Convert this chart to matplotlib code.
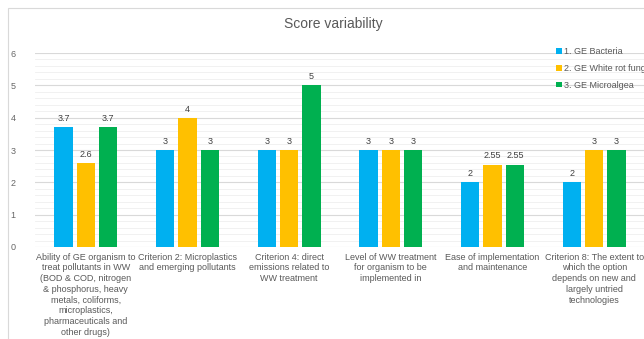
import matplotlib
matplotlib.use("Agg")
import matplotlib.pyplot as plt
import numpy as np
from matplotlib.patches import Rectangle

plt.rcParams['font.family'] = ['Liberation Sans', 'DejaVu Sans']

categories = [
    "Ability of GE organism to\ntreat pollutants in WW\n(BOD & COD, nitrogen\n& phosphorus, heavy\nmetals, coliforms,\nmicroplastics,\npharmaceuticals and\nother drugs)",
    "Criterion 2: Microplastics\nand emerging pollutants",
    "Criterion 4: direct\nemissions related to\nWW treatment",
    "Level of WW treatment\nfor organism to be\nimplemented in",
    "Ease of implementation\nand maintenance",
    "Criterion 8: The extent to\nwhich the option\ndepends on new and\nlargely untried\ntechnologies",
]
series_names = ["1. GE Bacteria", "2. GE White rot fungi", "3. GE Microalgea"]
bacteria = [3.7, 3, 3, 3, 2, 2]
white_rot = [2.6, 4, 3, 3, 2.55, 3]
microalgae = [3.7, 3, 5, 3, 2.55, 3]
colors = ["#00B0F0", "#FFC000", "#00B050"]

fig = plt.figure(figsize=(6.44, 3.39), dpi=100)
fig.patches.append(Rectangle((8 / 644, -0.1), 1.2, 1.1 - 8 / 339,
                             transform=fig.transFigure, fill=False,
                             edgecolor="#d9d9d9", linewidth=0.8))
ax = fig.add_axes([35 / 644, 92 / 339, 610 / 644, 194 / 339])

x = np.arange(len(categories))
width = 0.18
offsets = [-0.22, 0, 0.22]
for vals, off, c, name in zip([bacteria, white_rot, microalgae], offsets, colors, series_names):
    bars = ax.bar(x + off, vals, width, color=c, label=name, zorder=3)
    labels = [("%g" % v) for v in vals]
    ax.bar_label(bars, labels=labels, padding=3, fontsize=6.5, color="#404040")

ax.set_xlim(-0.5, len(categories) - 0.5)
ax.set_ylim(0, 6)
ax.set_yticks(range(0, 7))
ax.set_yticks(np.arange(0, 6.01, 0.2), minor=True)
ax.grid(axis="y", which="major", color="#d9d9d9", linewidth=0.8, zorder=0)
ax.grid(axis="y", which="minor", color="#efefef", linewidth=0.6, zorder=0)
ax.tick_params(axis="y", which="both", length=0, labelsize=6.5, labelcolor="#666666", pad=14)
ax.tick_params(axis="x", length=0, pad=4)
ax.set_xticks(x)
ax.set_xticklabels(categories, fontsize=6.5, color="#595959", linespacing=1.25, va="top")
for s in ax.spines.values():
    s.set_visible(False)

fig.text(333 / 644, 1 - 24 / 339, "Score variability", ha="center", va="center",
         fontsize=10, color="#595959")

leg = ax.legend(loc="upper left", bbox_to_anchor=(550 / 644, 1 - 41 / 339),
                bbox_transform=fig.transFigure, frameon=False, fontsize=6.5,
                handlelength=0.6, handleheight=0.6, handletextpad=0.3,
                labelspacing=0.85, labelcolor="#595959", borderpad=0.2)

fig.savefig("out.png", dpi=100)
